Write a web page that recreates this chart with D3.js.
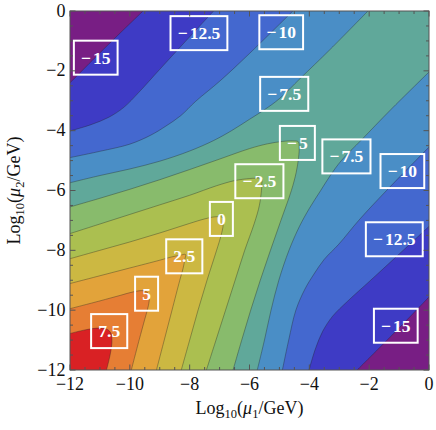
<!DOCTYPE html>
<html>
<head>
<meta charset="utf-8">
<script src="https://cdn.jsdelivr.net/npm/d3@7"></script>
<style>
  body { margin: 0; background: #fff; }
  text { font-family: "Liberation Serif", "Times New Roman", serif; }
</style>
</head>
<body>
<div id="vis"></div>
<script>
// contour levels, lowest first, and the colour of each band (band 0 is below -15)
const levels = [-15, -12.5, -10, -7.5, -5, -2.5, 0, 2.5, 5, 7.5];
const bandColors = ['#781e84', '#3e3bc5', '#4468cf', '#4a8ec6', '#60a89a', '#88bb6c',
                    '#abbf50', '#ccb842', '#e2a33a', '#e67e34', '#d92124'];

// contour traces, points are [log10(mu1), log10(mu2)]
// open contours: upper-left piece (left edge -> top edge), lower-right piece (bottom edge -> right edge)
const c_m15_upper = [[-12, -2.40], [-10.8, -1.2], [-9.56, 0]];
const c_m15_lower = [[-2.40, -12], [-1.2, -10.8], [0, -9.56]];
const c_m125_upper = [[-12, -4.01], [-11.3, -3.8], [-10.7, -3.55], [-10.2, -3.22], [-9.7, -2.72], [-9, -1.95], [-8.2, -1.08], [-7.2, 0]];
const c_m125_lower = [[-4.01, -12], [-3.8, -11.3], [-3.55, -10.7], [-3.22, -10.2], [-2.72, -9.7], [-1.95, -9], [-1.08, -8.2], [0, -7.2]];
const c_m10_upper = [[-12, -4.9], [-11, -4.69], [-10, -4.45], [-9.3, -4.15], [-8.8, -3.85], [-8.3, -3.5], [-7.8, -3.02], [-7, -2.35], [-6, -1.42], [-4.55, 0]];
const c_m10_lower = [[-4.9, -12], [-4.69, -11], [-4.45, -10], [-4.15, -9.3], [-3.85, -8.8], [-3.5, -8.3], [-3.02, -7.8], [-2.35, -7], [-1.42, -6], [0, -4.55]];
const c_m75_upper = [[-12, -5.74], [-11, -5.5], [-10, -5.28], [-9, -5.02], [-8, -4.68], [-7.2, -4.33], [-6.6, -4.0], [-6, -3.62], [-5.5, -3.3], [-5, -2.93], [-4.3, -2.25], [-3.3, -1.28], [-2.04, 0]];
const c_m75_lower = [[-5.74, -12], [-5.5, -11], [-5.28, -10], [-5.02, -9], [-4.68, -8], [-4.33, -7.2], [-4.0, -6.6], [-3.62, -6], [-3.3, -5.5], [-2.93, -5], [-2.25, -4.3], [-1.28, -3.3], [0, -2.04]];

// closed "V" contours: left edge -> tip on the diagonal -> bottom edge
const c_m5 = [[-12, -6.55], [-11, -6.26], [-10, -5.96], [-9, -5.64], [-8, -5.3], [-7, -4.95], [-6, -4.6], [-5.4, -4.44], [-4.9, -4.36], [-4.55, -4.34], [-4.37, -4.37],
              [-4.34, -4.55], [-4.36, -4.9], [-4.44, -5.4], [-4.6, -6], [-4.95, -7], [-5.3, -8], [-5.64, -9], [-5.96, -10], [-6.26, -11], [-6.55, -12]];
const c_m25 = [[-12, -7.44], [-11, -7.12], [-10, -6.8], [-9, -6.48], [-8, -6.16], [-7.1, -5.84], [-6.5, -5.67], [-6.0, -5.6], [-5.8, -5.59], [-5.6, -5.6],
               [-5.59, -5.8], [-5.6, -6.0], [-5.67, -6.5], [-5.84, -7.1], [-6.16, -8], [-6.48, -9], [-6.8, -10], [-7.12, -11], [-7.44, -12]];
const c_0 = [[-12, -8.28], [-11, -8.0], [-10, -7.72], [-9, -7.42], [-8, -7.1], [-7.5, -6.95], [-7.15, -6.88], [-6.9, -6.9],
             [-6.88, -7.15], [-6.95, -7.5], [-7.1, -8], [-7.42, -9], [-7.72, -10], [-8.0, -11], [-8.28, -12]];
const c_25 = [[-12, -9.11], [-11, -8.85], [-10, -8.59], [-9, -8.33], [-8.6, -8.22], [-8.3, -8.16], [-8.14, -8.14],
              [-8.16, -8.3], [-8.22, -8.6], [-8.33, -9], [-8.59, -10], [-8.85, -11], [-9.11, -12]];
const c_5 = [[-12, -9.95], [-11, -9.69], [-10.3, -9.5], [-9.85, -9.38], [-9.55, -9.35], [-9.41, -9.41],
             [-9.35, -9.55], [-9.38, -9.85], [-9.5, -10.3], [-9.69, -11], [-9.95, -12]];
const c_75 = [[-12, -10.78], [-11.5, -10.66], [-11.1, -10.6], [-10.8, -10.62], [-10.69, -10.69],
              [-10.62, -10.8], [-10.6, -11.1], [-10.66, -11.5], [-10.78, -12]];

// contour labels (value and where the box sits)
const labelValues = [-15, -12.5, -10, -7.5, -5, -7.5, -10, -2.5, 0, 2.5, 5, 7.5, -12.5, -15];
const labelX = [-11.14, -7.69, -4.94, -4.84, -4.40, -2.76, -0.89, -5.67, -6.94, -8.18, -9.44, -10.69, -1.16, -1.11];
const labelY = [-1.56, -0.74, -0.71, -2.77, -4.41, -4.86, -5.35, -5.69, -6.95, -8.20, -9.45, -10.70, -7.63, -10.52];

const tickValues = [-12, -10, -8, -6, -4, -2, 0];

// SVG canvas
const width = 436;
const height = 430;

const svg = d3.select('#vis').append('svg')
    .attr('width', width)
    .attr('height', height);

const x = d3.scaleLinear().domain([-12, 0]).range([70, 429]);
const y = d3.scaleLinear().domain([-12, 0]).range([370, 11]);

svg.append('clipPath').attr('id', 'plotclip')
    .append('rect')
    .attr('x', x(-12)).attr('y', y(0))
    .attr('width', x(0) - x(-12)).attr('height', y(-12) - y(0));

const g = svg.append('g').attr('clip-path', 'url(#plotclip)');

const line = d3.line()
    .x(d => x(d[0]))
    .y(d => y(d[1]))
    .curve(d3.curveCatmullRom.alpha(0.5));

const to = (a, b) => `L${x(a)},${y(b)}`;

const contours = [
    {level: -15, upper: c_m15_upper, lower: c_m15_lower},
    {level: -12.5, upper: c_m125_upper, lower: c_m125_lower},
    {level: -10, upper: c_m10_upper, lower: c_m10_lower},
    {level: -7.5, upper: c_m75_upper, lower: c_m75_lower},
    {level: -5, v: c_m5},
    {level: -2.5, v: c_m25},
    {level: 0, v: c_0},
    {level: 2.5, v: c_25},
    {level: 5, v: c_5},
    {level: 7.5, v: c_75}
];

// region where the value is above the level
function regionPath(c) {
    if (c.v) {
        return line(c.v) + to(-12, -12) + 'Z';
    }
    const lowerBack = c.lower.slice().reverse();
    return line(c.upper) + to(0, 0) + line(lowerBack).replace(/^M/, 'L') + to(-12, -12) + 'Z';
}

// lowest band fills everything, every level paints over it
g.append('rect')
    .attr('x', x(-12)).attr('y', y(0))
    .attr('width', x(0) - x(-12)).attr('height', y(-12) - y(0))
    .attr('fill', bandColors[0]);

g.selectAll('.band')
    .data(contours)
    .join('path')
    .attr('class', 'band')
    .attr('d', regionPath)
    .attr('fill', d => bandColors[levels.indexOf(d.level) + 1]);

// contour lines
const lines = [];
contours.forEach(c => {
    if (c.v) lines.push(c.v);
    else { lines.push(c.upper); lines.push(c.lower); }
});

g.selectAll('.cline')
    .data(lines)
    .join('path')
    .attr('class', 'cline')
    .attr('d', line)
    .attr('fill', 'none')
    .attr('stroke', '#222')
    .attr('stroke-opacity', 0.45)
    .attr('stroke-width', 0.8);

// contour labels in white boxes
const fmt = v => String(v).replace('-', '−');

const labs = svg.append('g')
    .selectAll('g')
    .data(labelValues)
    .join('g')
    .attr('transform', (d, i) => `translate(${x(labelX[i])},${y(labelY[i])})`);

labs.each(function (d) {
    const lg = d3.select(this);
    const t = lg.append('text')
        .attr('text-anchor', 'middle')
        .attr('dy', '0.34em')
        .attr('fill', '#fff')
        .attr('font-weight', 'bold')
        .attr('font-size', 17.5);
    const s = fmt(d);
    if (s[0] === '−') {
        t.append('tspan').text('−');
        t.append('tspan').attr('dx', 2).text(s.slice(1));
    } else {
        t.text(s);
    }
    const w = t.node().getBBox().width;
    lg.insert('rect', 'text')
        .attr('x', -w / 2 - 7)
        .attr('y', -17)
        .attr('width', w + 14)
        .attr('height', 34)
        .attr('fill', 'none')
        .attr('stroke', '#fff')
        .attr('stroke-width', 2);
});

// frame with inward ticks on all four sides
const frame = svg.append('g').attr('stroke', '#555').attr('stroke-width', 1);

frame.append('rect')
    .attr('x', x(-12)).attr('y', y(0))
    .attr('width', x(0) - x(-12)).attr('height', y(-12) - y(0))
    .attr('fill', 'none');

const allTicks = x.ticks(24);
allTicks.forEach(v => {
    const len = tickValues.includes(v) ? 5.5 : 3;
    frame.append('line').attr('x1', x(v)).attr('x2', x(v)).attr('y1', y(-12)).attr('y2', y(-12) - len);
    frame.append('line').attr('x1', x(v)).attr('x2', x(v)).attr('y1', y(0)).attr('y2', y(0) + len);
    frame.append('line').attr('y1', y(v)).attr('y2', y(v)).attr('x1', x(-12)).attr('x2', x(-12) + len);
    frame.append('line').attr('y1', y(v)).attr('y2', y(v)).attr('x1', x(0)).attr('x2', x(0) - len);
});

// tick labels
svg.append('g')
    .selectAll('text')
    .data(tickValues)
    .join('text')
    .attr('x', d => x(d))
    .attr('y', 390)
    .attr('text-anchor', 'middle')
    .attr('font-size', 18)
    .attr('fill', '#111')
    .text(fmt);

svg.append('g')
    .selectAll('text')
    .data(tickValues)
    .join('text')
    .attr('x', 65.5)
    .attr('y', d => y(d) + 5.5)
    .attr('text-anchor', 'end')
    .attr('font-size', 18)
    .attr('fill', '#111')
    .text(fmt);

// axis titles: Log10(mu_i/GeV)
function axisTitle(sel, idx) {
    sel.append('tspan').text('Log');
    sel.append('tspan').attr('dy', 4).attr('font-size', 12.5).text('10');
    sel.append('tspan').attr('dy', -4).text('(');
    sel.append('tspan').attr('font-style', 'italic').text('μ');
    sel.append('tspan').attr('dy', 4).attr('font-size', 12.5).text(idx);
    sel.append('tspan').attr('dy', -4).text('/GeV)');
}

const xt = svg.append('text')
    .attr('x', (x(-12) + x(0)) / 2)
    .attr('y', 414)
    .attr('text-anchor', 'middle')
    .attr('font-size', 18)
    .attr('fill', '#111');
axisTitle(xt, '1');

const yt = svg.append('text')
    .attr('transform', `translate(19.5,${(y(-12) + y(0)) / 2}) rotate(-90)`)
    .attr('text-anchor', 'middle')
    .attr('font-size', 18)
    .attr('fill', '#111');
axisTitle(yt, '2');
</script>
</body>
</html>
